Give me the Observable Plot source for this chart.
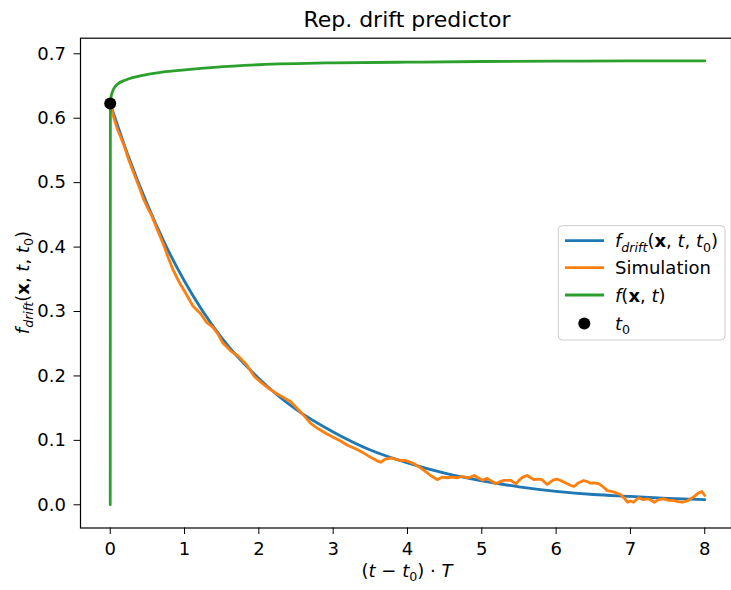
<!DOCTYPE html>
<html>
<head>
<meta charset="utf-8">
<script src="https://cdn.jsdelivr.net/npm/d3@7"></script>
<script src="https://cdn.jsdelivr.net/npm/@observablehq/plot@0.6"></script>
<style>
  html, body { margin: 0; padding: 0; background: white; }
  #chart { width: 731px; height: 590px; }
  text { white-space: pre; }
</style>
</head>
<body>
<div id="chart"></div>
<script>
// ---- data ----
const xTicks = [0, 1, 2, 3, 4, 5, 6, 7, 8];
const yTicks = [0, 0.1, 0.2, 0.3, 0.4, 0.5, 0.6, 0.7];

// predictor f_drift(x, t, t0)
const driftT = [0, 0.25, 0.5, 0.75, 1, 1.5, 2, 2.5, 3, 3.5, 4, 4.5, 5, 5.5, 6, 6.5, 7, 7.5, 8];
const driftV = [0.623, 0.539, 0.466, 0.402, 0.347, 0.259, 0.196, 0.148, 0.113, 0.085, 0.065, 0.049, 0.037, 0.028, 0.021, 0.016, 0.013, 0.010, 0.008];

// simulation
const simT = [0, 0.05, 0.1, 0.15, 0.2, 0.25, 0.3, 0.35, 0.4, 0.45, 0.52, 0.55, 0.62, 0.68, 0.73, 0.77, 0.84, 0.93, 1.02, 1.11,
  1.22, 1.29, 1.38, 1.45, 1.51, 1.63, 1.72, 1.83, 1.94, 2.03, 2.14, 2.25, 2.34, 2.43, 2.52, 2.61, 2.70, 2.80, 2.90, 3.00,
  3.10, 3.20, 3.30, 3.40, 3.50, 3.58, 3.64, 3.70, 3.78, 3.85, 3.91, 3.96, 4.02, 4.10, 4.18, 4.25, 4.31, 4.36, 4.40, 4.47,
  4.54, 4.60, 4.67, 4.73, 4.80, 4.85, 4.90, 4.95, 5.01, 5.07, 5.13, 5.19, 5.25, 5.30, 5.39, 5.46, 5.50, 5.55, 5.61, 5.66,
  5.70, 5.75, 5.81, 5.88, 5.93, 5.97, 6.01, 6.06, 6.15, 6.20, 6.24, 6.30, 6.37, 6.42, 6.46, 6.52, 6.58, 6.63, 6.69, 6.74,
  6.78, 6.87, 6.92, 6.96, 7.00, 7.04, 7.11, 7.17, 7.23, 7.28, 7.32, 7.38, 7.45, 7.52, 7.58, 7.64, 7.70, 7.76, 7.81, 7.86,
  7.90, 7.96, 8.00];
const simV = [0.623, 0.600, 0.582, 0.568, 0.553, 0.535, 0.520, 0.505, 0.490, 0.474, 0.457, 0.451, 0.431, 0.414, 0.400, 0.387, 0.366, 0.345, 0.3275, 0.309,
  0.296, 0.284, 0.2757, 0.265, 0.252, 0.238, 0.231, 0.218, 0.199, 0.190, 0.180, 0.172, 0.166, 0.160, 0.149, 0.138, 0.126, 0.118, 0.111, 0.105,
  0.099, 0.092, 0.087, 0.081, 0.074, 0.069, 0.066, 0.071, 0.073, 0.070, 0.0688, 0.069, 0.067, 0.063, 0.057, 0.051, 0.0455, 0.042, 0.039, 0.043,
  0.042, 0.043, 0.042, 0.044, 0.042, 0.043, 0.0455, 0.042, 0.038, 0.041, 0.037, 0.0326, 0.036, 0.038, 0.038, 0.0326, 0.038, 0.043, 0.0455, 0.042,
  0.039, 0.040, 0.039, 0.0315, 0.036, 0.0388, 0.040, 0.0377, 0.0326, 0.030, 0.0284, 0.034, 0.0377, 0.036, 0.0336, 0.034, 0.0326, 0.028, 0.022, 0.021,
  0.0196, 0.0155, 0.010, 0.004, 0.006, 0.004, 0.011, 0.008, 0.0093, 0.007, 0.004, 0.008, 0.0093, 0.007, 0.0067, 0.005, 0.004, 0.006, 0.0093, 0.013,
  0.017, 0.0206, 0.0144];

// f(x, t)
const fT = [0, 0.002, 0.01, 0.03, 0.06, 0.1, 0.2, 0.3, 0.5, 0.7, 1, 1.4, 2, 3, 4, 5, 6, 7, 8];
const fV = [0, 0.623, 0.632, 0.641, 0.648, 0.653, 0.659, 0.663, 0.668, 0.6715, 0.675, 0.679, 0.683, 0.686, 0.687, 0.688, 0.6885, 0.689, 0.689];

// t0 marker
const t0T = [0];
const t0V = [0.623];

// ---- build tables ----
const drift = driftT.map((t, i) => ({t, v: driftV[i]}));
const sim = simT.map((t, i) => ({t, v: simV[i]}));
const fxt = fT.map((t, i) => ({t, v: fV[i]}));
const t0 = t0T.map((t, i) => ({t, v: t0V[i]}));

const C_BLUE = "#1f77b4", C_ORANGE = "#ff7f0e", C_GREEN = "#2ca02c";
const FONT = "DejaVu Sans, sans-serif";
const LW = 2.8;

const plot = Plot.plot({
  width: 731,
  height: 590,
  marginLeft: 80,
  marginRight: 0,
  marginTop: 37.7,
  marginBottom: 62.5,
  style: {fontFamily: FONT, fontSize: "18px", color: "black", background: "white", overflow: "visible"},
  x: {domain: [-0.4, 8.36]},
  y: {domain: [-0.036, 0.7242]},
  marks: [
    Plot.axisX({ticks: xTicks, tickSize: 6.5, tickPadding: 8, tickFormat: d3.format("d"), label: null, fontSize: 18}),
    Plot.axisY({ticks: yTicks, tickSize: 6.5, tickPadding: 8, tickFormat: d3.format(".1f"), label: null, fontSize: 18}),
    Plot.line(drift, {x: "t", y: "v", stroke: C_BLUE, strokeWidth: LW, curve: "monotone-x"}),
    Plot.line(sim, {x: "t", y: "v", stroke: C_ORANGE, strokeWidth: LW, curve: "linear"}),
    Plot.line(fxt, {x: "t", y: "v", stroke: C_GREEN, strokeWidth: LW, curve: "monotone-x"}),
    Plot.dot(t0, {x: "t", y: "v", r: 6, fill: "black", stroke: "none"}),
    Plot.frame({stroke: "black", strokeWidth: 1.2})
  ]
});

document.getElementById("chart").appendChild(plot);

const svg = d3.select(plot);

function rich(sel, parts, size) {
  const sub = size * 0.7;
  const shift = size * 0.24;
  let shifted = false;
  for (const p of parts) {
    const ts = sel.append("tspan").text(p.t);
    if (p.i) ts.attr("font-style", "italic");
    if (p.b) ts.attr("font-weight", "bold");
    if (p.sub) {
      ts.attr("font-size", sub);
      if (!shifted) { ts.attr("dy", shift); shifted = true; }
    } else if (shifted) {
      ts.attr("dy", -shift); shifted = false;
    }
  }
  return sel;
}

const fdriftParts = [
  {t: "f", i: 1}, {t: "drift", i: 1, sub: 1}, {t: "("}, {t: "x", b: 1}, {t: ", "},
  {t: "t", i: 1}, {t: ", "}, {t: "t", i: 1}, {t: "0", sub: 1}, {t: ")"}
];

// title
svg.append("text")
  .attr("x", 407).attr("y", 26.7)
  .attr("text-anchor", "middle")
  .attr("font-family", FONT).attr("font-size", 22).attr("fill", "black")
  .text("Rep. drift predictor");

// x label
rich(svg.append("text")
  .attr("x", 407).attr("y", 577)
  .attr("text-anchor", "middle")
  .attr("font-family", FONT).attr("font-size", 18).attr("fill", "black"),
  [{t: "("}, {t: "t", i: 1}, {t: " − "}, {t: "t", i: 1}, {t: "0", sub: 1}, {t: ") · "}, {t: "T", i: 1}], 18);

// y label
rich(svg.append("text")
  .attr("transform", "translate(29,282.6) rotate(-90)")
  .attr("text-anchor", "middle")
  .attr("font-family", FONT).attr("font-size", 18).attr("fill", "black"),
  fdriftParts, 18);

// legend
const lg = svg.append("g").attr("font-family", FONT).attr("font-size", 18).attr("text-anchor", "start");
lg.append("rect")
  .attr("x", 558.3).attr("y", 225.7).attr("width", 166.7).attr("height", 114.3)
  .attr("rx", 4).attr("fill", "white").attr("fill-opacity", 0.8)
  .attr("stroke", "#cccccc").attr("stroke-width", 1);

const rows = [
  {y: 240.7, kind: "line", color: C_BLUE, parts: fdriftParts},
  {y: 267.7, kind: "line", color: C_ORANGE, parts: [{t: "Simulation"}]},
  {y: 295.0, kind: "line", color: C_GREEN, parts: [{t: "f", i: 1}, {t: "("}, {t: "x", b: 1}, {t: ", "}, {t: "t", i: 1}, {t: ")"}]},
  {y: 323.5, kind: "dot", color: "black", parts: [{t: "t", i: 1}, {t: "0", sub: 1}]}
];
for (const r of rows) {
  if (r.kind === "line") {
    lg.append("line").attr("x1", 565).attr("x2", 604).attr("y1", r.y).attr("y2", r.y)
      .attr("stroke", r.color).attr("stroke-width", LW);
  } else {
    lg.append("circle").attr("cx", 584.3).attr("cy", r.y).attr("r", 6).attr("fill", r.color);
  }
  rich(lg.append("text").attr("x", 615).attr("y", r.y + 6.5).attr("text-anchor", "start").attr("fill", "black"), r.parts, 18);
}
</script>
</body>
</html>
